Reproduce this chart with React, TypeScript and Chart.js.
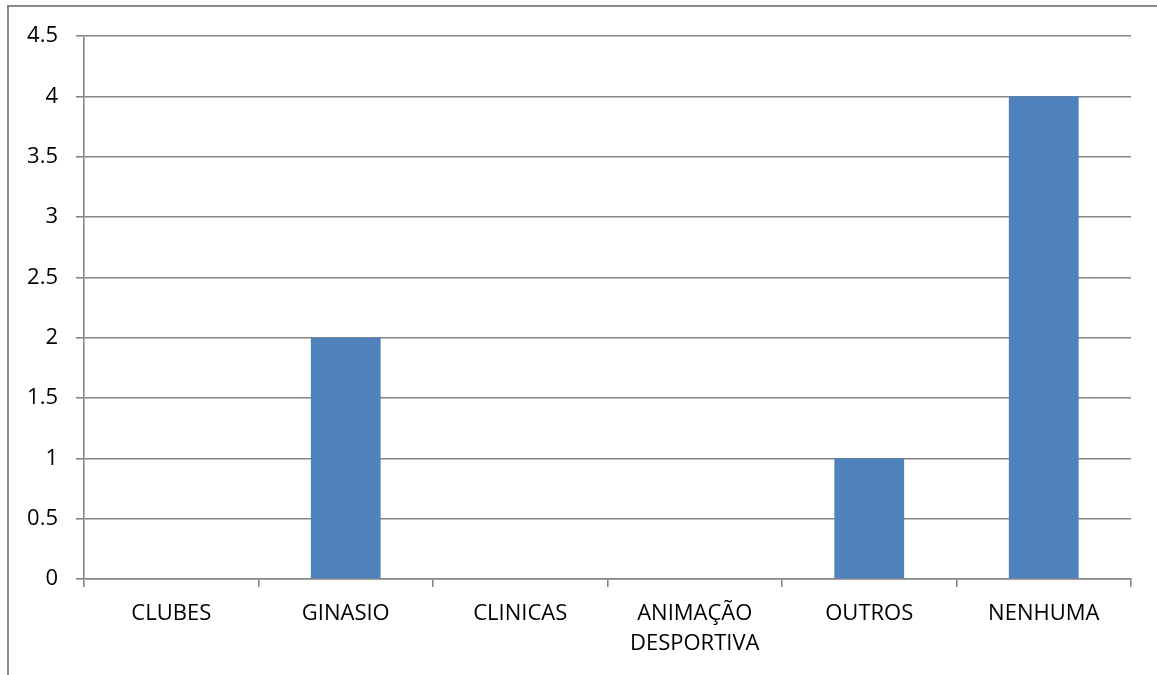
import React, { useEffect, useRef } from "react";
import { Chart, registerables } from "chart.js";

Chart.register(...registerables);

const categories: (string | string[])[] = [
  "CLUBES",
  "GINASIO",
  "CLINICAS",
  ["ANIMAÇÃO", "DESPORTIVA"],
  "OUTROS",
  "NENHUMA",
];
const values: number[] = [0, 2, 0, 0, 1, 4];
const yMin = 0;
const yMax = 4.5;
const yStep = 0.5;

const W = 1157;
const H = 675;
const GRID = "#868686";
const BAR = "#4F81BD";
const FONT = "'Open Sans', sans-serif";

const outerBorder = {
  id: "outerBorder",
  afterDraw(chart: any) {
    const ctx = chart.ctx;
    ctx.save();
    ctx.strokeStyle = "#8a8a8a";
    ctx.lineWidth = 2;
    ctx.beginPath();
    ctx.moveTo(8, H);
    ctx.lineTo(8, 6);
    ctx.lineTo(W, 6);
    ctx.stroke();
    ctx.restore();
  },
};

export default function App() {
  const ref = useRef<HTMLCanvasElement | null>(null);

  useEffect(() => {
    if (!ref.current) return;
    const chart = new Chart(ref.current, {
      type: "bar",
      data: {
        labels: categories,
        datasets: [
          {
            data: values,
            backgroundColor: BAR,
            borderWidth: 0,
            barPercentage: 0.4,
            categoryPercentage: 1.0,
          },
        ],
      },
      options: {
        responsive: false,
        animation: false,
        layout: { padding: { left: 0, top: 36, right: 26, bottom: 0 } },
        plugins: {
          legend: { display: false },
          tooltip: { enabled: false },
        },
        scales: {
          x: {
            offset: true,
            afterFit: (s: any) => {
              s.height = H - 579;
            },
            grid: {
              display: true,
              offset: true,
              drawOnChartArea: false,
              drawTicks: true,
              tickLength: 8,
              color: GRID,
              lineWidth: 1.6,
            },
            border: { display: true, color: GRID, width: 1.6 },
            ticks: {
              color: "#000000",
              padding: 12,
              maxRotation: 0,
              autoSkip: false,
              font: { family: FONT, size: 22, lineHeight: 1.36 },
            },
          },
          y: {
            min: yMin,
            max: yMax,
            afterFit: (s: any) => {
              s.width = 84;
            },
            grid: {
              display: true,
              drawOnChartArea: true,
              drawTicks: true,
              tickLength: 8,
              color: GRID,
              lineWidth: 1.6,
            },
            border: { display: true, color: GRID, width: 1.6 },
            ticks: {
              stepSize: yStep,
              color: "#000000",
              padding: 18,
              font: { family: FONT, size: 22 },
              callback: (v: any) => String(v),
            },
          },
        },
      },
      plugins: [outerBorder],
    });
    return () => chart.destroy();
  }, []);

  return (
    <div
      style={{
        position: "absolute",
        left: 0,
        top: 0,
        width: W,
        height: H,
        background: "#ffffff",
      }}
    >
      <canvas ref={ref} width={W} height={H} style={{ display: "block" }} />
    </div>
  );
}
